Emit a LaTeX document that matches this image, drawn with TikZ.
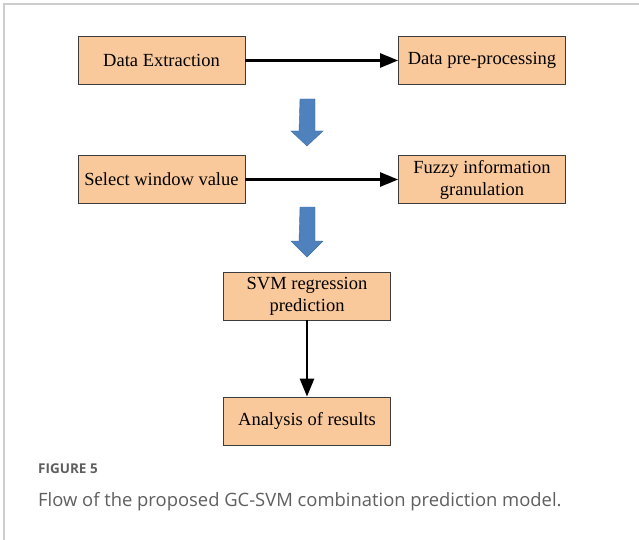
\documentclass[tikz,border=0pt]{standalone}
\usepackage{fontspec}
\setmainfont{Liberation Serif}
\newfontfamily\capfont{Open Sans}
\usetikzlibrary{arrows.meta}
\definecolor{boxfill}{RGB}{250,201,155}
\definecolor{boxline}{RGB}{60,60,60}
\definecolor{bluearr}{RGB}{79,129,189}
\definecolor{bluearrline}{RGB}{65,110,165}
\definecolor{capgray}{RGB}{95,95,95}
\definecolor{framegray}{RGB}{205,205,205}
\tikzset{
  x=1pt, y=-1pt,
  procbox/.style={draw=boxline, line width=0.8pt, fill=boxfill, minimum width=167pt, minimum height=48pt,
    inner sep=2pt, align=center, font=\fontsize{18.5}{22}\selectfont},
  flowarrow/.style={line width=2.6pt, -{Triangle[length=18pt,width=14pt]}},
  bigarrow/.style={fill=bluearr, draw=bluearrline, line width=0.4pt}
}
\begin{document}
\begin{tikzpicture}
\useasboundingbox (0,0) rectangle (639,540);
\fill[white] (0,0) rectangle (639,540);
% frame
\draw[framegray, line width=1.5pt] (4,540) -- (4,4) -- (639,4);
% boxes
\node[procbox] (ext) at (161.5,60.5) {Data Extraction};
\node[procbox] (pre) at (482,60.5) {Data pre-processing};
\node[procbox] (sel) at (161.5,179.5) {Select window value};
\node[procbox] (fuz) at (482,179.5) {Fuzzy information\\granulation};
\node[procbox] (svm) at (307,296) {SVM regression\\prediction};
\node[procbox] (ana) at (307,421) {Analysis of results};
% connectors
\draw[flowarrow] (ext.east) -- (pre.west);
\draw[flowarrow] (sel.east) -- (fuz.west);
\draw[flowarrow] (svm.south) -- (ana.north);
% block arrows
\draw[bigarrow] (300,99) -- (315,99) -- (315,131) -- (323,131) -- (307,146) -- (291,131) -- (299,131) -- cycle;
\draw[bigarrow] (300,207) -- (315,207) -- (315,241) -- (323,241) -- (307,257) -- (291,241) -- (299,241) -- cycle;
% caption
\node[anchor=base west, text=capgray, inner sep=0pt, font=\capfont\bfseries\fontsize{13.5}{15}\selectfont] (figlab) at (38,473) {FIGURE 5};
\node[anchor=base west, text=capgray, inner sep=0pt, font=\capfont\fontsize{18.4}{22}\selectfont] (figcap) at (38,506) {Flow of the proposed GC-SVM combination prediction model.};
\end{tikzpicture}
\end{document}
